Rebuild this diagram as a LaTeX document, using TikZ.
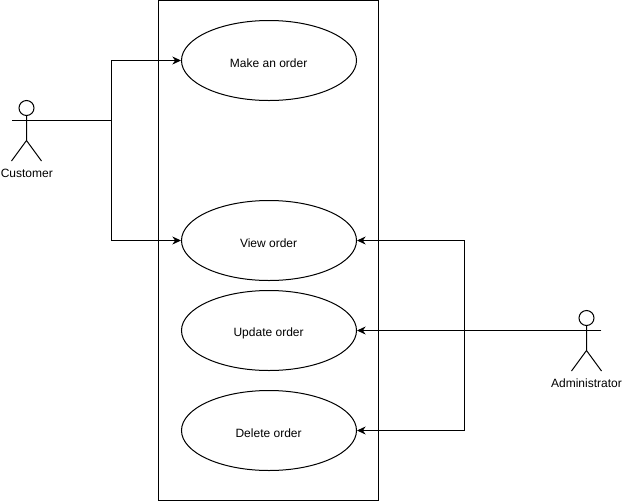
\documentclass[tikz,border=0pt]{standalone}
\usepackage{fontspec}
\setmainfont{Liberation Sans}
\usetikzlibrary{arrows.meta,shapes.geometric}
\tikzset{x=0.75pt,y=-0.75pt,
 uc/.style={draw,line width=0.75pt,shape=ellipse,minimum width=131.25pt,minimum height=60pt,inner sep=0pt,font=\fontsize{9}{11}\selectfont},
 lab/.style={inner sep=0pt,font=\fontsize{9}{11}\selectfont},
 conn/.style={line width=0.75pt,-{Stealth[length=6.5pt,width=6pt]}},
 stick/.style={line width=0.75pt}}
\begin{document}
\begin{tikzpicture}
\useasboundingbox (0,0) rectangle (622,501);
\fill[white] (0,0) rectangle (622,501);
\node[draw,line width=0.75pt,minimum width=165pt,minimum height=375pt,inner sep=0pt] (sys) at (268.95,250) {};
\node[uc] (a) at (269,60.5) {}; \node[lab] (at) at (268.6,62.8) {Make an order};
\node[uc] (b) at (269,240.5) {}; \node[lab] (bt) at (268.6,242.8) {View order};
\node[uc] (c) at (269,330.5) {}; \node[lab] (ct) at (268.6,333.2) {Update order};
\node[uc] (d) at (269,430.5) {}; \node[lab] (dt) at (268.6,432.8) {Delete order};
\coordinate (cu) at (12,120.5);
\node[draw,circle,stick,minimum size=11.25pt,inner sep=0pt] (h1) at (26.5,108) {};
\draw[stick] (h1.south) -- (26.5,140.5) -- (11.5,161) (26.5,140.5) -- (41.5,161);
\node[lab] (cl) at (26.8,173.5) {Customer};
\coordinate (ad) at (601,330.5);
\node[draw,circle,stick,minimum size=11.25pt,inner sep=0pt] (h2) at (586.5,318) {};
\draw[stick] (h2.south) -- (586.5,350.5) -- (571.5,371) (586.5,350.5) -- (601.5,371);
\node[lab] (al) at (586.5,383.5) {Administrator};
\draw[conn] (cu) -- (111.5,120.5) |- (a.west);
\draw[conn] (cu) -- (111.5,120.5) |- (b.west);
\draw[conn] (ad) -- (464,330.5) |- (b.east);
\draw[conn] (ad) -- (c.east);
\draw[conn] (ad) -- (464,330.5) |- (d.east);
\end{tikzpicture}
\end{document}
